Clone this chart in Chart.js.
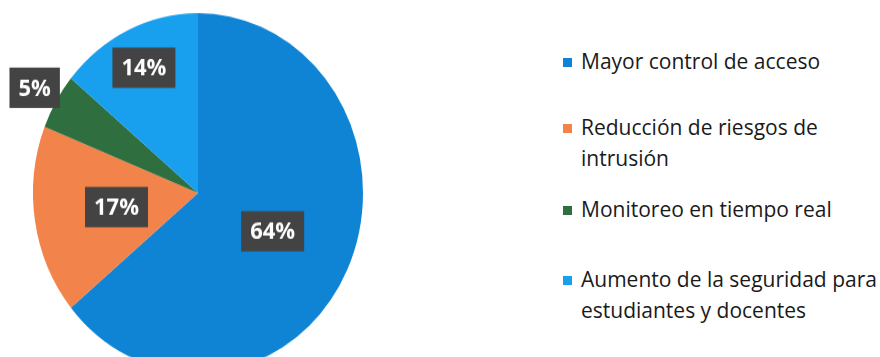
<!DOCTYPE html>
<html>
<head>
<meta charset="utf-8">
<script src="https://cdn.jsdelivr.net/npm/chart.js@4.4.0/dist/chart.umd.min.js"></script>
<style>
  html, body { margin:0; padding:0; background:#fff; }
  body { width:880px; height:357px; position:relative; overflow:hidden; font-family:"Open Sans", sans-serif; }
  #pieBox { position:absolute; left:0; top:28px; width:396px; height:330px; transform:scaleY(1.09); transform-origin:50% 50%; }
  #legend { position:absolute; left:563px; top:0; }
  .item { position:absolute; left:0; display:flex; align-items:flex-start; white-space:nowrap; }
  .sw { width:9px; height:9px; margin-top:11px; margin-right:9px; flex:none; }
  .txt { font-size:21px; line-height:31px; color:#1a1a1a; margin-top:-1px; }
</style>
</head>
<body>
<div id="pieBox"><canvas id="pie"></canvas></div>
<div id="legend"></div>
<script>
const categories = [
  ['Mayor control de acceso'],
  ['Reducción de riesgos de', 'intrusión'],
  ['Monitoreo en tiempo real'],
  ['Aumento de la seguridad para', 'estudiantes y docentes']
];
const values = [64, 17, 5, 14];
const colors = ['#0f84d4', '#f2834a', '#2f6e3f', '#18a0ee'];

// where each percentage box sits, as a fraction of the radius
const labelRadius = [0.5, 0.5, 1.15, 0.77];
const legendTop = [47, 113, 195, 265];

const pctLabels = {
  id: 'pctLabels',
  afterDatasetsDraw(chart) {
    const ctx = chart.ctx;
    const total = values.reduce((a, b) => a + b, 0);
    chart.getDatasetMeta(0).data.forEach((arc, i) => {
      const mid = (arc.startAngle + arc.endAngle) / 2;
      const r = arc.outerRadius * labelRadius[i];
      const x = arc.x + Math.cos(mid) * r;
      const y = arc.y + Math.sin(mid) * r;
      const txt = Math.round(values[i] / total * 100) + '%';
      ctx.save();
      ctx.font = 'bold 22px "Open Sans", sans-serif';
      const w = ctx.measureText(txt).width + 18;
      const h = 37;
      ctx.fillStyle = '#434343';
      ctx.fillRect(x - w / 2, y - h / 2, w, h);
      ctx.fillStyle = '#ffffff';
      ctx.textAlign = 'center';
      ctx.textBaseline = 'middle';
      ctx.fillText(txt, x, y + 1);
      ctx.restore();
    });
  }
};

const chart = new Chart(document.getElementById('pie'), {
  type: 'pie',
  data: {
    labels: categories,
    datasets: [{
      data: values,
      backgroundColor: colors,
      borderWidth: 0
    }]
  },
  options: {
    responsive: true,
    maintainAspectRatio: false,
    animation: false,
    layout: { padding: 0 },
    plugins: { legend: { display: false }, tooltip: { enabled: false } }
  },
  plugins: [pctLabels]
});

// legend on the right, built from the chart's own labels and colours
const leg = document.getElementById('legend');
chart.data.labels.forEach((lines, i) => {
  const item = document.createElement('div');
  item.className = 'item';
  item.style.top = legendTop[i] + 'px';
  const sw = document.createElement('div');
  sw.className = 'sw';
  sw.style.background = chart.data.datasets[0].backgroundColor[i];
  const t = document.createElement('div');
  t.className = 'txt';
  t.innerHTML = lines.join('<br>');
  item.appendChild(sw);
  item.appendChild(t);
  leg.appendChild(item);
});
</script>
</body>
</html>
